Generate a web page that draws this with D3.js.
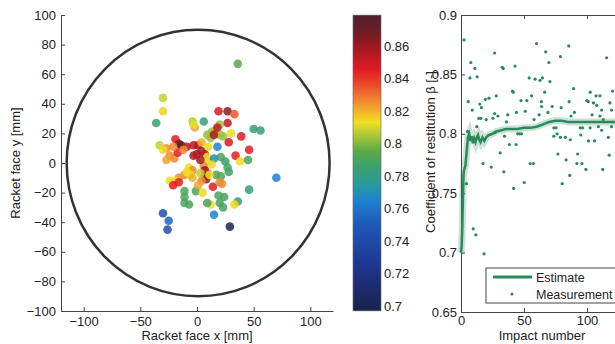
<!DOCTYPE html>
<meta charset="utf-8">
<style>
  body { margin: 0; background: #fff; }
  text { font-family: "Liberation Sans", Arial, sans-serif; fill: #222; }
  .axis path, .axis line { stroke: #444; }
  .axis text { font-size: 13px; fill: #222; }
</style>
<body>
<script src="https://d3js.org/d3.v7.min.js"></script>
<div id="chart"></div>
<script>

// impact locations on the racket face [mm] and their coefficient of restitution
var impactX = [36, -30, -30, -36, -4, -2, 6, 19, 27, 33, 27, 20, 16, 13, 9, 12, 20, 23, 30, 39,
               50, 56, 28, 18, 46, 34, 38, 45, 70, 46, 36, 33, 12, 9, 15, 29, -30, -25, -26, -11,
               -11, -11, -7, -1, 19, 24, 20, 23, 17, 21, 21, 25, 27, 28, -33, -27, -24, -27, -20, -19,
               -16, -14, -17, -21, -9, -3, 1, -3, 0, 4, 7, 4, 10, 9, 10, 15, 6, -7, -4, -11,
               -16, -19, -24, -21, -16, -6, -4, 7, 9, 7, 8, 11, 14, 20, 22, 4, 3, -30, -3, 13,
               1, -9, 3, 15, 18, -12, 5];
var impactY = [67, 44, 35, 27, 28, 24, 28, 35, 35, 33, 27, 26, 22, 21, 19, 17, 19, 18, 20, 18,
               23, 22, 14, 11, 9, 5, 1, 2, -10, -18, -26, -28, -28, -27, -35, -43, -34, -39, -45, -19,
               -23, -27, -28, -19, -22, -23, -27, -30, -8, -9, 4, 1, -3, -6, 12, 10, 5, 2, 3, 16,
               13, 12, 7, 11, 11, 12, 12, 5, 6, 8, 6, 14, 11, 4, 1, 3, -2, -3, -5, -8,
               -10, -12, -12, -15, -13, -8, -10, -5, -7, -9, -11, -8, -16, -13, -14, -12, -7, 9, 26, -1,
               -15, -6, 2, 19, 24, 9, -20];
var impactCOR = [0.795, 0.808, 0.815, 0.785, 0.806, 0.822, 0.783, 0.848, 0.864, 0.834, 0.852, 0.803, 0.803, 0.803, 0.803, 0.803, 0.803, 0.803, 0.814, 0.846,
                 0.783, 0.784, 0.848, 0.765, 0.846, 0.845, 0.814, 0.79, 0.765, 0.782, 0.784, 0.814, 0.812, 0.79, 0.765, 0.702, 0.745, 0.755, 0.742, 0.79,
                 0.79, 0.789, 0.79, 0.79, 0.79, 0.788, 0.79, 0.789, 0.792, 0.792, 0.79, 0.786, 0.79, 0.787, 0.808, 0.825, 0.826, 0.822, 0.826, 0.846,
                 0.862, 0.876, 0.845, 0.826, 0.855, 0.855, 0.856, 0.857, 0.856, 0.858, 0.856, 0.82, 0.814, 0.813, 0.814, 0.77, 0.826, 0.814, 0.826, 0.826,
                 0.826, 0.814, 0.814, 0.846, 0.845, 0.814, 0.82, 0.862, 0.848, 0.864, 0.862, 0.813, 0.846, 0.826, 0.826, 0.826, 0.808, 0.814, 0.812, 0.814,
                 0.822, 0.813, 0.858, 0.856, 0.852, 0.826, 0.814];

// racket face outline (semi axes, mm)
var faceRx = 116, faceRy = 90;

// colour map stops
var cmapValues = [0.697, 0.715, 0.73, 0.75, 0.765, 0.775, 0.785, 0.795, 0.805, 0.813, 0.826, 0.836, 0.846, 0.856, 0.866, 0.879];
var cmapColors = ["#1a2448", "#1d2d78", "#1f3c98", "#2058b8", "#1e82d0", "#2a9a98", "#3aa070", "#5aa848",
                  "#a8c838", "#f0e020", "#f08a30", "#ec4a2a", "#e01a24", "#b0181e", "#7a1c22", "#4a2030"];
var cbarTicks = [0.7, 0.72, 0.74, 0.76, 0.78, 0.8, 0.82, 0.84, 0.86];

// right plot: measurements per impact and the running estimate
var measNum = [2.4, 7.8, 7.1, 11, 12.8, 5.7, 8.9, 14.1, 15.7, 14.9, 16.2, 19.4, 22.2, 26.7, 28, 25.4, 26.7, 29.3, 32.7, 33.5,
               37.1, 42.9, 40.8, 41.5, 47.6, 51, 52.3, 56, 54.1, 58.8, 59.9, 62.7, 64.6, 63.8, 67.2, 69.8, 70.6, 66.4, 72.4, 79.5,
               78.9, 85.5, 89.4, 87.3, 85.8, 99.9, 101, 102.5, 105.1, 107.2, 110.3, 107.7, 111.6, 110.3, 115.6, 120.3, 118.2, 119.6, 64, 69,
               45, 46.5, 48, 38.4, 43.7, 34.5, 73.7, 75.5, 73.7, 76.3, 78.9, 82.8, 86.7, 94.6, 96.5, 102.5, 95, 101.2, 106, 109,
               111.6, 116.9, 119.5, 31.1, 17.5, 24, 34, 41.8, 50.2, 54.9, 57.5, 76.9, 83.4, 86.3, 80.3, 92, 96, 92.6, 99.1, 112.4,
               117.6, 9.7, 11.8, 18.3, 4.4, 5.2, 12.5, 27, 20, 36, 44, 58, 62, 90, 104, 113];
var measCOR = [0.879, 0.860, 0.847, 0.855, 0.848, 0.827, 0.820, 0.813, 0.813, 0.825, 0.822, 0.829, 0.830, 0.868, 0.832, 0.813, 0.817, 0.815, 0.856, 0.855,
               0.816, 0.857, 0.836, 0.835, 0.828, 0.819, 0.828, 0.832, 0.847, 0.846, 0.876, 0.845, 0.847, 0.827, 0.869, 0.860, 0.844, 0.835, 0.823, 0.822,
               0.865, 0.874, 0.838, 0.815, 0.827, 0.828, 0.827, 0.835, 0.826, 0.832, 0.832, 0.824, 0.820, 0.815, 0.864, 0.836, 0.826, 0.820, 0.823, 0.818,
               0.800, 0.800, 0.800, 0.791, 0.791, 0.798, 0.805, 0.805, 0.798, 0.800, 0.797, 0.797, 0.795, 0.805, 0.805, 0.805, 0.799, 0.794, 0.794, 0.806,
               0.803, 0.797, 0.806, 0.784, 0.775, 0.772, 0.768, 0.754, 0.759, 0.775, 0.775, 0.783, 0.778, 0.765, 0.758, 0.775, 0.775, 0.783, 0.770, 0.770,
               0.782, 0.720, 0.715, 0.699, 0.758, 0.802, 0.806, 0.801, 0.812, 0.810, 0.818, 0.812, 0.816, 0.818, 0.816, 0.812];
var estNum = [0, 0.5, 1, 1.5, 2, 2.5, 3.5, 4.5, 5.5, 6.5, 7.5, 8.5, 9.5, 10.5, 11.5, 12.5, 13.5, 14.5, 15.5, 17, 18.5, 20, 22, 25, 28, 32, 36, 40, 45,
              50, 55, 60, 65, 70, 75, 80, 85, 90, 95, 100, 110, 120, 130];
var estCOR = [0.700, 0.705, 0.720, 0.745, 0.765, 0.770, 0.773, 0.785, 0.797, 0.800, 0.794, 0.798, 0.792, 0.796, 0.793, 0.797, 0.799, 0.795,
              0.793, 0.797, 0.794, 0.797, 0.799, 0.800, 0.802, 0.803, 0.804, 0.804, 0.804, 0.805, 0.805, 0.806, 0.808,
              0.810, 0.811, 0.811, 0.810, 0.810, 0.810, 0.810, 0.810, 0.810, 0.810];

var W = 615, H = 344;
var green = "#2a8a5c";

var svg = d3.select("#chart").append("svg")
    .attr("width", W)
    .attr("height", H);

// ---------- left: impact map ----------
var xL = d3.scaleLinear().domain([-120, 120]).range([61, 333]);
var yL = d3.scaleLinear().domain([-100, 100]).range([311, 15]);
var color = d3.scaleLinear().domain(cmapValues).range(cmapColors).clamp(true);

svg.append("ellipse")
    .attr("cx", xL(1))
    .attr("cy", yL(0))
    .attr("rx", xL(faceRx) - xL(0))
    .attr("ry", yL(0) - yL(faceRy))
    .style("fill", "none")
    .style("stroke", "#333")
    .style("stroke-width", 2.5);

svg.append("g").selectAll("circle")
    .data(impactX.map(function(d, i) { return {x: d, y: impactY[i], v: impactCOR[i]}; }))
    .enter().append("circle")
    .attr("cx", function(d) { return xL(d.x); })
    .attr("cy", function(d) { return yL(d.y); })
    .attr("r", 4.3)
    .style("fill", function(d) { return color(d.v); })
    .style("opacity", 0.85);

svg.append("g")
    .attr("class", "axis")
    .attr("transform", "translate(0," + yL(-100) + ")")
    .call(d3.axisBottom(xL).tickValues([-100, -50, 0, 50, 100]).tickSize(-4).tickSizeOuter(0).tickPadding(6));

svg.append("g")
    .attr("class", "axis")
    .attr("transform", "translate(" + xL(-120) + ",0)")
    .call(d3.axisLeft(yL).tickValues(d3.range(-100, 101, 20)).tickSize(-4).tickSizeOuter(0).tickPadding(5));

svg.append("text")
    .attr("x", 197)
    .attr("y", 340)
    .attr("text-anchor", "middle")
    .style("font-size", "13px")
    .text("Racket face x [mm]");

svg.append("text")
    .attr("transform", "translate(15,163) rotate(-90)")
    .attr("text-anchor", "middle")
    .attr("dy", "0.35em")
    .style("font-size", "13px")
    .text("Racket face y [mm]");

// ---------- colour bar ----------
var yC = d3.scaleLinear().domain([0.70, 0.86]).range([306, 46]);
var cbX = 353, cbW = 28;

var grad = svg.append("defs").append("linearGradient")
    .attr("id", "cmap")
    .attr("x1", 0).attr("y1", 1).attr("x2", 0).attr("y2", 0);
grad.selectAll("stop")
    .data(cmapValues)
    .enter().append("stop")
    .attr("offset", function(d) { return (d - cmapValues[0]) / (cmapValues[cmapValues.length - 1] - cmapValues[0]); })
    .attr("stop-color", function(d, i) { return cmapColors[i]; });

svg.append("rect")
    .attr("x", cbX)
    .attr("y", yC(cmapValues[cmapValues.length - 1]))
    .attr("width", cbW)
    .attr("height", yC(cmapValues[0]) - yC(cmapValues[cmapValues.length - 1]))
    .style("fill", "url(#cmap)")
    .style("stroke", "#666")
    .style("stroke-width", 0.6);

svg.append("g")
    .attr("class", "axis")
    .attr("transform", "translate(" + (cbX + cbW) + ",0)")
    .call(d3.axisRight(yC).tickValues(cbarTicks).tickSize(0).tickPadding(3)
      .tickFormat(function(d) { return String(+d.toFixed(2)); }))
    .call(function(g) { g.select(".domain").remove(); });

// ---------- right: COR vs impact number ----------
var xR = d3.scaleLinear().domain([0, 200]).range([461, 461 + 200 * 1.26]);
var yR = d3.scaleLinear().domain([0.65, 0.9]).range([312, 15]);

svg.append("g")
    .attr("class", "axis")
    .attr("transform", "translate(0," + yR(0.65) + ")")
    .call(d3.axisBottom(xR).tickValues([0, 50, 100]).tickSize(-4).tickSizeOuter(0).tickPadding(4));

svg.append("g")
    .attr("class", "axis")
    .attr("transform", "translate(0," + yR(0.9) + ")")
    .call(d3.axisTop(xR).tickValues([0, 50, 100]).tickSize(-4).tickSizeOuter(0).tickFormat(""));

svg.append("g")
    .attr("class", "axis")
    .attr("transform", "translate(" + xR(0) + ",0)")
    .call(d3.axisLeft(yR).tickValues([0.65, 0.7, 0.75, 0.8, 0.85, 0.9]).tickSize(-4).tickSizeOuter(0).tickPadding(4)
      .tickFormat(function(d) { return String(+d.toFixed(2)); }));

var line = d3.line()
    .x(function(d) { return xR(d[0]); })
    .y(function(d) { return yR(d[1]); });
var est = estNum.map(function(d, i) { return [d, estCOR[i]]; });

svg.append("path")
    .datum(est)
    .attr("d", line)
    .style("fill", "none")
    .style("stroke", green)
    .style("stroke-opacity", 0.25)
    .style("stroke-width", 7);

svg.append("path")
    .datum(est)
    .attr("d", line)
    .style("fill", "none")
    .style("stroke", green)
    .style("stroke-width", 2.5);

svg.append("g").selectAll("circle")
    .data(measNum.map(function(d, i) { return [d, measCOR[i]]; }))
    .enter().append("circle")
    .attr("cx", function(d) { return xR(d[0]); })
    .attr("cy", function(d) { return yR(d[1]); })
    .attr("r", 1.6)
    .style("fill", green);

svg.append("text")
    .attr("x", 542)
    .attr("y", 340)
    .attr("text-anchor", "middle")
    .style("font-size", "13px")
    .text("Impact number");

svg.append("text")
    .attr("transform", "translate(430,152) rotate(-90)")
    .attr("text-anchor", "middle")
    .attr("dy", "0.35em")
    .style("font-size", "13px")
    .text("Coefficient of restitution β [-]");

// legend
var leg = svg.append("g").attr("transform", "translate(486,268)");
leg.append("rect")
    .attr("width", 160)
    .attr("height", 35)
    .style("fill", "#fff")
    .style("stroke", "#444");
leg.append("line")
    .attr("x1", 7).attr("x2", 46)
    .attr("y1", 9).attr("y2", 9)
    .style("stroke", green)
    .style("stroke-width", 3);
leg.append("circle")
    .attr("cx", 26).attr("cy", 26)
    .attr("r", 1.6)
    .style("fill", green);
leg.append("text")
    .attr("x", 50).attr("y", 14)
    .style("font-size", "12.5px")
    .text("Estimate");
leg.append("text")
    .attr("x", 50).attr("y", 30.5)
    .style("font-size", "12.5px")
    .text("Measurement");

</script>
</body>
